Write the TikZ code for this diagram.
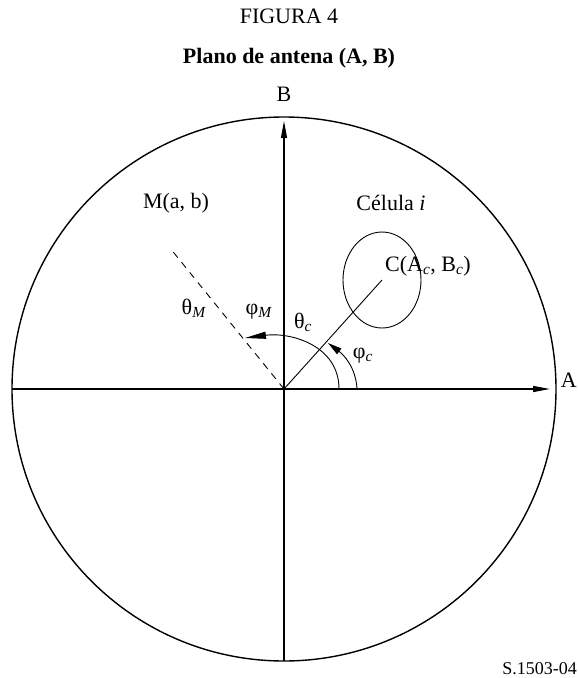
\documentclass[tikz,border=0pt]{standalone}
\usepackage{fontspec}
\setmainfont{Liberation Serif}
\usetikzlibrary{arrows.meta, calc}
\tikzset{
  rim/.style={line width=1.4pt},
  axis/.style={line width=1.2pt, -{Triangle[length=17pt, width=6pt]}},
  ang/.style={line width=0.9pt, -{Triangle[length=#1, width=7pt]}},
  lbl/.style={inner sep=0pt, font=\fontsize{22}{26}\selectfont},
}
\begin{document}
\begin{tikzpicture}[x=1pt, y=-1pt]
    \useasboundingbox (0,0) rectangle (578,678);
    % titulos
    \node[lbl] (fig) at (289,16) {FIGURA 4};
    \node[lbl, font=\fontsize{22}{26}\selectfont\bfseries] (tit) at (289,58) {Plano de antena (A, B)};
    % circulo y ejes
    \coordinate (O) at (284,389);
    \draw[rim] (O) circle[radius=272];
    \coordinate (Al) at (12,389);
    \coordinate (Ar) at (550,389);
    \coordinate (Bb) at (284,661);
    \coordinate (Bt) at (284,121);
    \draw[axis] (Al) -- (Ar);
    \draw[axis] (Bb) -- (Bt);
    \node[lbl, anchor=east] (A) at (577,380) {A};
    \node[lbl] (B) at (284,94) {B};
    % celula i
    \coordinate (C) at (382,280);
    \draw[line width=0.9pt] (O) -- (C);
    \draw[line width=0.9pt] (C) ellipse[x radius=39, y radius=48];
    \node[lbl] (cel) at (391,203) {Célula \textit{i}};
    \node[lbl, anchor=west] (Cc) at (385,266) {C(A\textsubscript{\textit{c}}, B\textsubscript{\textit{c}})};
    % punto M
    \coordinate (M) at (170,248);
    \draw[line width=0.9pt, dash pattern=on 7pt off 6pt] (O) -- (M);
    \node[lbl] (Mab) at (176,203) {M(a, b)};
    % angulos
    \coordinate (t0) at (339,389);
    \coordinate (t1) at (245,338);
    \draw[ang=21pt] (t0) .. controls (339,345) and (290,332) .. (t1);
    \coordinate (p0) at (357,389);
    \coordinate (p1) at (328,343);
    \draw[ang=14pt] (p0) .. controls (356,368) and (344,355) .. (p1);
    \node[lbl] (thM) at (194,308) {θ\textsubscript{\textit{M}}};
    \node[lbl] (phM) at (259,312) {φ\textsubscript{\textit{M}}};
    \node[lbl] (thc) at (303,322) {θ\textsubscript{\textit{c}}};
    \node[lbl] (phc) at (363,356) {φ\textsubscript{\textit{c}}};
    \node[lbl, anchor=base east, font=\fontsize{18}{20}\selectfont] (ref) at (577,674) {S.1503-04};
\end{tikzpicture}
\end{document}
